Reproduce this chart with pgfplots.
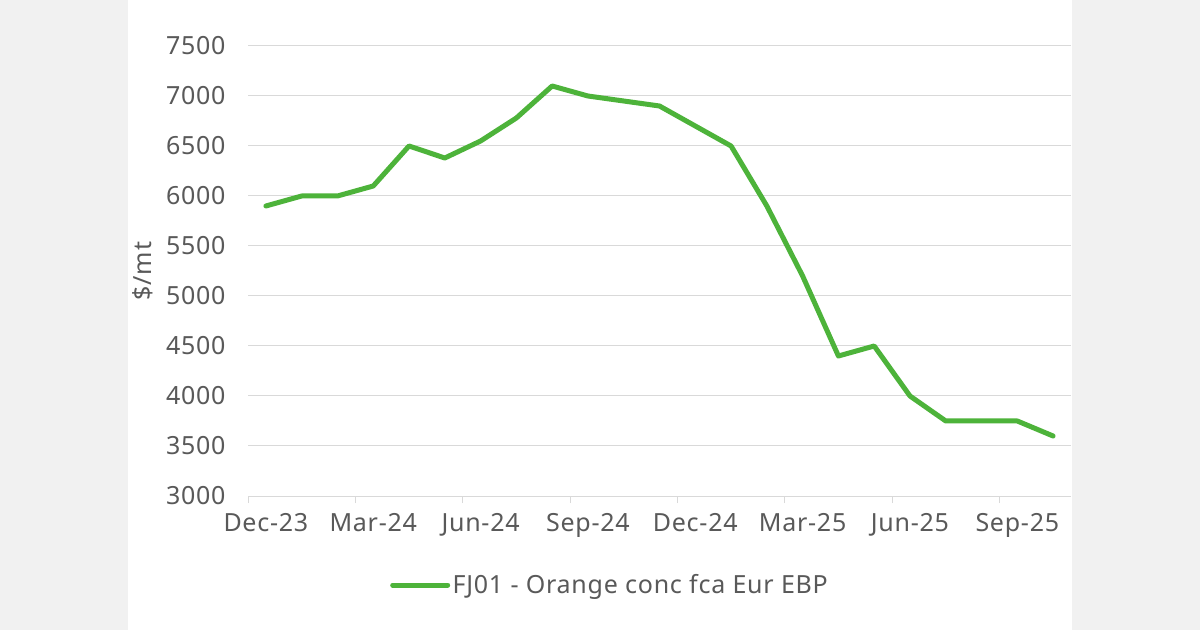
\documentclass[border=0pt]{standalone}
\usepackage{fontspec}
\setmainfont[LetterSpace=3]{Noto Sans}
\usepackage{pgfplots}
\pgfplotsset{compat=1.18}
\definecolor{bggray}{RGB}{241,241,241}
\definecolor{gridgray}{RGB}{217,217,217}
\definecolor{txtgray}{RGB}{89,89,89}
\definecolor{linegreen}{RGB}{77,179,58}
\newcommand{\chartfont}{\fontsize{25bp}{29bp}\selectfont}
\begin{document}
\begin{tikzpicture}
\fill[bggray] (0bp,0bp) rectangle (1200bp,630bp);
\fill[white] (128bp,0bp) rectangle (1072bp,630bp);
\begin{axis}[
  at={(248bp,134bp)}, anchor=south west,
  scale only axis, width=823bp, height=450bp,
  xmin=-0.5, xmax=22.5, ymin=3000, ymax=7500,
  ytick={3000,3500,...,7500},
  xtick={0,3,6,9,12,15,18,21},
  xticklabels={Dec-23,Mar-24,Jun-24,Sep-24,Dec-24,Mar-25,Jun-25,Sep-25},
  extra x ticks={-0.5,2.5,5.5,8.5,11.5,14.5,17.5,20.5},
  extra x tick labels={},
  extra x tick style={major tick length=7bp, tick align=outside, tick style={draw=gridgray, line width=1bp}},
  major tick length=0pt,
  separate axis lines,
  axis x line*=bottom, axis y line*=left,
  x axis line style={draw=gridgray, line width=1bp, -},
  y axis line style={draw=none},
  ymajorgrids, grid style={draw=gridgray, line width=1bp},
  tick label style={font=\chartfont, text=txtgray},
  /pgf/number format/assume math mode=true,
  /pgf/number format/1000 sep={},
  xticklabel style={yshift=-14bp},
  yticklabel style={xshift=-19bp},
  ylabel={\$/mt},
  ylabel style={font=\chartfont, text=txtgray, at={(axis description cs:-0.1276,0.5)}, anchor=center},
  legend style={draw=none, fill=none, font=\chartfont, text=txtgray,
    at={(axis description cs:0.1725,-0.1978)}, anchor=west, inner sep=0pt,
    nodes={inner sep=2.5bp}},
  legend image code/.code={\draw[#1, line width=5bp, line cap=round] (0bp,0bp) -- (55bp,0bp);},
  clip=false,
]
\addplot[linegreen, line width=5bp, line join=round, line cap=round] coordinates {
(0,5900) (1,6000) (2,6000) (3,6100) (4,6500) (5,6380) (6,6550) (7,6780)
(8,7100) (9,7000) (10,6950) (11,6900) (12,6700) (13,6500) (14,5900)
(15,5200) (16,4400) (17,4500) (18,4000) (19,3750) (20,3750) (21,3750) (22,3600)
};
\addlegendentry{FJ01 - Orange conc fca Eur EBP}
\end{axis}
\pgfresetboundingbox
\useasboundingbox (0bp,0bp) rectangle (1200bp,630bp);
\end{tikzpicture}
\end{document}
